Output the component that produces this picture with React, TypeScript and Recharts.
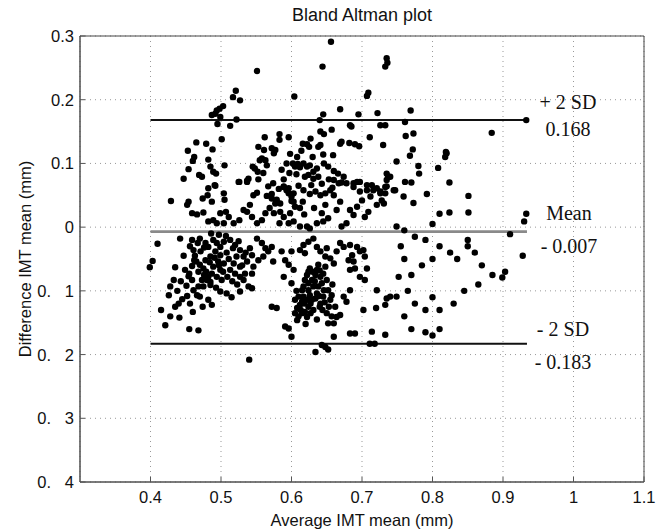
import { ScatterChart, Scatter, XAxis, YAxis, CartesianGrid, ReferenceLine, ReferenceArea } from "recharts";

// [average IMT, difference IMT]
const upperPoints: [number, number][] = [
  [0.656, 0.291], [0.644, 0.252], [0.551, 0.245], [0.735, 0.265], [0.733, 0.252], [0.736, 0.258], [0.604, 0.205],
  [0.709, 0.211], [0.707, 0.206], [0.521, 0.214], [0.517, 0.204], [0.527, 0.199],
  [0.503, 0.19], [0.498, 0.186], [0.494, 0.183], [0.492, 0.178], [0.487, 0.176], [0.499, 0.173], [0.495, 0.162],
  [0.522, 0.169], [0.513, 0.159],
  [0.669, 0.185], [0.645, 0.177], [0.64, 0.168], [0.695, 0.177], [0.683, 0.16], [0.685, 0.158], [0.722, 0.179],
  [0.726, 0.16], [0.733, 0.16],
  [0.641, 0.15], [0.646, 0.146], [0.657, 0.153], [0.711, 0.141], [0.73, 0.129], [0.501, 0.138], [0.562, 0.141],
  [0.583, 0.146], [0.583, 0.137], [0.596, 0.141],
  [0.465, 0.133], [0.479, 0.131], [0.453, 0.12], [0.488, 0.122],
  [0.553, 0.126], [0.561, 0.121], [0.572, 0.124], [0.577, 0.121], [0.575, 0.116],
  [0.616, 0.131], [0.622, 0.13], [0.627, 0.139], [0.625, 0.126], [0.638, 0.126], [0.641, 0.129],
  [0.669, 0.131], [0.671, 0.134], [0.682, 0.132], [0.69, 0.13], [0.696, 0.127],
  [0.659, 0.113], [0.462, 0.11], [0.46, 0.104], [0.454, 0.091], [0.447, 0.076],
  [0.482, 0.106], [0.485, 0.095], [0.489, 0.087], [0.493, 0.084], [0.505, 0.097], [0.469, 0.082], [0.473, 0.079],
  [0.491, 0.066],
  [0.526, 0.071], [0.537, 0.073], [0.539, 0.076],
  [0.545, 0.095], [0.548, 0.092], [0.552, 0.087], [0.555, 0.105], [0.558, 0.108], [0.563, 0.105], [0.565, 0.097],
  [0.574, 0.069], [0.589, 0.075], [0.589, 0.063], [0.596, 0.061], [0.603, 0.053], [0.6, 0.041], [0.572, 0.052],
  [0.579, 0.04], [0.584, 0.037],
  [0.602, 0.1], [0.605, 0.095], [0.609, 0.099], [0.612, 0.094], [0.617, 0.1], [0.622, 0.095], [0.626, 0.097],
  [0.631, 0.087], [0.636, 0.092], [0.646, 0.1], [0.652, 0.095],
  [0.597, 0.085], [0.607, 0.083], [0.619, 0.079], [0.624, 0.082], [0.631, 0.076], [0.638, 0.079],
  [0.66, 0.088], [0.666, 0.084], [0.674, 0.079], [0.671, 0.07], [0.678, 0.069], [0.688, 0.063], [0.693, 0.071],
  [0.697, 0.056], [0.707, 0.058], [0.7, 0.042], [0.714, 0.066], [0.721, 0.061], [0.726, 0.056], [0.733, 0.053],
  [0.735, 0.074], [0.74, 0.079], [0.747, 0.058],
  [0.553, 0.075], [0.56, 0.085], [0.567, 0.064], [0.582, 0.06], [0.586, 0.09], [0.593, 0.1], [0.598, 0.115],
  [0.608, 0.11], [0.614, 0.12], [0.63, 0.11], [0.645, 0.114], [0.653, 0.075], [0.658, 0.062], [0.61, 0.065],
  [0.617, 0.058], [0.628, 0.066], [0.643, 0.068],
];

const nearMeanPoints: [number, number][] = [
  [0.429, 0.041], [0.482, 0.061], [0.492, 0.065], [0.481, 0.05], [0.487, 0.04], [0.474, 0.045], [0.454, 0.04],
  [0.452, 0.035], [0.459, 0.022], [0.466, 0.02], [0.475, 0.023], [0.482, 0.009], [0.489, 0.011], [0.494, 0.006],
  [0.499, 0.022], [0.504, 0.053], [0.505, 0.043], [0.507, 0.024], [0.511, 0.016], [0.504, 0.006],
  [0.525, 0.071], [0.537, 0.071], [0.546, 0.05], [0.551, 0.054], [0.541, 0.035], [0.537, 0.024], [0.544, 0.016],
  [0.532, 0.027], [0.526, 0.011], [0.518, 0.006],
  [0.565, 0.049], [0.572, 0.045], [0.577, 0.037], [0.579, 0.043], [0.569, 0.03], [0.575, 0.022], [0.584, 0.024],
  [0.589, 0.016], [0.583, 0.006], [0.563, 0.022], [0.558, 0.011], [0.551, 0.006],
  [0.589, 0.064], [0.593, 0.058], [0.6, 0.048], [0.596, 0.053], [0.603, 0.04], [0.605, 0.032], [0.598, 0.022],
  [0.596, 0.006], [0.603, 0.009], [0.612, 0.001],
  [0.616, 0.04], [0.626, 0.052], [0.634, 0.056], [0.641, 0.05], [0.643, 0.022], [0.636, 0.006], [0.626, -0.002],
  [0.622, 0.001],
  [0.648, 0.053], [0.655, 0.058], [0.66, 0.05], [0.669, 0.04], [0.664, 0.027], [0.652, 0.014], [0.645, 0.009],
  [0.66, 0.074], [0.667, 0.069], [0.688, 0.069], [0.697, 0.071], [0.707, 0.066], [0.716, 0.058], [0.712, 0.048],
  [0.726, 0.053], [0.735, 0.064], [0.731, 0.037], [0.721, 0.035], [0.709, 0.024], [0.704, 0.016], [0.693, 0.032],
  [0.683, 0.027], [0.688, 0.019], [0.678, 0.006], [0.671, 0.001], [0.745, 0.058], [0.749, 0.001],
  [0.648, 0.035], [0.632, 0.03], [0.618, 0.02], [0.612, 0.03],
];

const lowerPoints: [number, number][] = [
  [0.399, -0.063], [0.403, -0.053], [0.41, -0.026], [0.442, -0.018], [0.435, -0.063], [0.433, -0.083],
  [0.428, -0.093], [0.426, -0.107], [0.415, -0.13], [0.421, -0.154], [0.428, -0.14], [0.435, -0.125],
  [0.44, -0.12], [0.441, -0.142], [0.455, -0.16], [0.468, -0.162], [0.452, -0.108], [0.459, -0.083],
  [0.454, -0.077], [0.449, -0.067], [0.459, -0.061], [0.465, -0.054], [0.47, -0.059], [0.475, -0.065],
  [0.479, -0.07], [0.482, -0.078], [0.485, -0.086], [0.473, -0.083], [0.468, -0.093], [0.466, -0.107],
  [0.461, -0.099], [0.451, -0.092], [0.455, -0.073],
  [0.47, -0.018], [0.478, -0.025], [0.482, -0.031], [0.489, -0.02], [0.494, -0.025], [0.499, -0.031],
  [0.504, -0.023], [0.492, -0.038], [0.499, -0.044], [0.485, -0.046], [0.478, -0.052], [0.496, -0.054],
  [0.504, -0.057], [0.489, -0.062], [0.499, -0.067], [0.487, -0.073], [0.494, -0.078], [0.501, -0.083],
  [0.48, -0.083], [0.475, -0.093], [0.485, -0.091], [0.499, -0.101], [0.47, -0.109], [0.482, -0.114],
  [0.487, -0.122], [0.459, -0.02], [0.461, -0.036], [0.467, -0.025],
  [0.463, -0.045], [0.471, -0.038], [0.476, -0.032], [0.484, -0.055], [0.491, -0.048], [0.497, -0.06],
  [0.503, -0.07], [0.508, -0.04], [0.511, -0.05], [0.509, -0.078], [0.516, -0.085], [0.523, -0.09],
  [0.527, -0.078], [0.53, -0.06], [0.535, -0.04], [0.525, -0.022], [0.517, -0.033], [0.507, -0.014],
  [0.497, -0.012], [0.486, -0.01], [0.476, -0.075], [0.468, -0.07], [0.462, -0.052], [0.456, -0.03],
  [0.447, -0.045], [0.443, -0.085], [0.438, -0.1], [0.445, -0.113], [0.456, -0.12], [0.46, -0.133],
  [0.474, -0.125], [0.493, -0.095], [0.508, -0.104], [0.515, -0.11], [0.527, -0.101],
  [0.513, -0.02], [0.52, -0.028], [0.527, -0.036], [0.522, -0.046], [0.518, -0.057], [0.513, -0.067],
  [0.52, -0.073], [0.527, -0.062], [0.532, -0.046], [0.537, -0.054], [0.541, -0.033], [0.544, -0.044],
  [0.534, -0.073], [0.544, -0.073], [0.532, -0.083], [0.539, -0.093], [0.544, -0.096],
  [0.551, -0.018], [0.558, -0.025], [0.563, -0.033], [0.56, -0.046], [0.567, -0.038], [0.572, -0.031],
  [0.574, -0.054], [0.553, -0.052], [0.546, -0.062], [0.572, -0.125], [0.579, -0.127],
  [0.586, -0.038], [0.591, -0.052], [0.596, -0.059], [0.603, -0.067], [0.6, -0.088], [0.589, -0.078],
  [0.591, -0.156], [0.596, -0.159], [0.6, -0.172], [0.608, -0.146], [0.605, -0.114], [0.61, -0.109],
  [0.612, -0.122], [0.615, -0.099], [0.617, -0.093], [0.619, -0.083], [0.622, -0.075], [0.624, -0.07],
  [0.626, -0.065], [0.629, -0.083], [0.631, -0.093], [0.634, -0.075], [0.636, -0.067], [0.638, -0.059],
  [0.641, -0.078], [0.643, -0.088], [0.645, -0.073], [0.648, -0.062], [0.65, -0.083], [0.636, -0.104],
  [0.629, -0.114], [0.624, -0.125], [0.619, -0.133], [0.622, -0.141], [0.615, -0.135], [0.631, -0.13],
  [0.641, -0.12], [0.645, -0.109], [0.652, -0.099], [0.655, -0.114], [0.657, -0.107], [0.65, -0.135],
  [0.652, -0.151], [0.66, -0.151], [0.664, -0.141], [0.669, -0.138], [0.662, -0.125],
  [0.617, -0.109], [0.624, -0.099], [0.626, -0.107], [0.634, -0.112], [0.638, -0.093], [0.622, -0.114],
  [0.615, -0.117], [0.608, -0.127], [0.605, -0.135], [0.64, -0.125], [0.646, -0.099], [0.624, -0.088],
  [0.607, -0.1], [0.613, -0.13], [0.618, -0.12], [0.627, -0.12], [0.633, -0.085], [0.639, -0.108],
  [0.644, -0.13], [0.647, -0.118], [0.653, -0.125], [0.658, -0.09], [0.627, -0.135], [0.61, -0.14],
  [0.62, -0.152], [0.636, -0.145], [0.657, -0.14], [0.63, -0.07], [0.64, -0.068],
  [0.6, -0.038], [0.612, -0.036], [0.617, -0.028], [0.619, -0.041], [0.624, -0.023], [0.631, -0.018],
  [0.636, -0.031], [0.641, -0.038], [0.65, -0.033], [0.648, -0.046], [0.655, -0.049], [0.66, -0.057],
  [0.664, -0.038], [0.669, -0.025], [0.674, -0.031], [0.683, -0.028], [0.681, -0.052], [0.686, -0.044],
  [0.688, -0.054], [0.683, -0.067], [0.693, -0.031], [0.697, -0.038], [0.702, -0.036], [0.704, -0.046],
  [0.707, -0.065], [0.704, -0.083], [0.697, -0.078], [0.69, -0.065], [0.683, -0.099], [0.678, -0.117],
  [0.674, -0.109],
  [0.66, -0.172], [0.683, -0.167], [0.69, -0.167], [0.714, -0.164], [0.711, -0.183], [0.718, -0.183],
  [0.72, -0.127], [0.721, -0.099], [0.733, -0.122], [0.735, -0.112], [0.74, -0.109], [0.749, -0.109],
  [0.752, -0.078], [0.733, -0.169], [0.702, -0.13],
  [0.634, -0.196], [0.643, -0.185], [0.648, -0.188], [0.652, -0.192], [0.54, -0.208],
];

const rightPoints: [number, number][] = [
  [0.769, 0.183], [0.761, 0.165], [0.773, 0.147], [0.762, 0.143], [0.772, 0.122], [0.768, 0.112], [0.82, 0.116],
  [0.818, 0.11], [0.819, 0.118], [0.884, 0.148], [0.933, 0.168], [0.78, 0.096], [0.781, 0.084], [0.808, 0.093],
  [0.824, 0.07], [0.761, 0.071], [0.77, 0.07], [0.759, 0.048], [0.773, 0.038], [0.792, 0.052], [0.851, 0.049],
  [0.81, 0.021], [0.824, 0.023], [0.851, 0.023], [0.933, 0.021], [0.749, 0.103], [0.735, 0.084], [0.737, 0.079],
  [0.733, 0.063], [0.728, 0.042],
  [0.93, 0.009], [0.91, -0.011], [0.928, -0.045], [0.903, -0.07], [0.899, -0.079],
  [0.76, -0.005], [0.775, -0.015], [0.79, -0.02], [0.8, 0.005], [0.81, -0.03], [0.8, -0.05], [0.825, -0.04],
  [0.835, -0.05], [0.85, -0.03], [0.86, -0.04], [0.87, -0.06], [0.885, -0.075], [0.865, -0.09], [0.845, -0.1],
  [0.83, -0.12], [0.81, -0.13], [0.79, -0.13], [0.8, -0.11], [0.775, -0.12], [0.765, -0.1], [0.77, -0.075],
  [0.785, -0.06], [0.76, -0.05], [0.755, -0.03], [0.76, -0.14], [0.77, -0.16], [0.79, -0.165], [0.8, -0.17],
  [0.81, -0.16], [0.85, -0.02],
];

const xTicks = [0.4, 0.5, 0.6, 0.7, 0.8, 0.9, 1, 1.1];
const yTicks = [-0.4, -0.3, -0.2, -0.1, 0, 0.1, 0.2, 0.3];
const yTickLabels = ["0.   4", "0.   3", "0.   2", "0.   1", "0", "0.1", "0.2", "0.3"];

const limitValues = [0.168, -0.007, -0.183];
const limitNames = ["+ 2 SD", "Mean", "- 2 SD"];
const limitTexts = ["0.168", "- 0.007", "- 0.183"];
const limitColors = ["#111", "#8a8a8a", "#111"];
const lineStart = 0.4;
const lineEnd = 0.934;

// label placement relative to the right end of each line: [dx, dy name, dy value]
const labelOffsets = [
  [41, -11, 16],
  [42, -12, 21],
  [36, -8, 25],
];

const points = [...upperPoints, ...nearMeanPoints, ...lowerPoints, ...rightPoints].map(([avg, diff]) => ({ avg, diff }));

const sans = "'Liberation Sans', Arial, Helvetica, sans-serif";
const serif = "'Liberation Serif', 'Times New Roman', serif";

const YTick = ({ x = 0, y = 0, payload }: { x?: number; y?: number; payload?: { value: number } }) => {
  const i = yTicks.findIndex((t) => Math.abs(t - (payload?.value ?? 0)) < 1e-9);
  return (
    <text x={x} y={y} dy="0.36em" textAnchor="end" fontSize={16.5} fontFamily={sans} fill="#111" style={{ whiteSpace: "pre" }}>
      {yTickLabels[i]}
    </text>
  );
};

const LimitLabel = ({ viewBox, idx }: { viewBox?: { x: number; y: number; width: number }; idx: number }) => {
  if (!viewBox) return null;
  const [dx, dyTop, dyBottom] = labelOffsets[idx];
  const x = viewBox.x + viewBox.width + dx;
  return (
    <g fontFamily={serif} fontSize={20} fill="#111" textAnchor="middle">
      <text x={x} y={viewBox.y + dyTop} textAnchor="middle">{limitNames[idx]}</text>
      <text x={x} y={viewBox.y + dyBottom} textAnchor="middle">{limitTexts[idx]}</text>
    </g>
  );
};

const Dot = (props: { cx?: number; cy?: number }) => <circle cx={props.cx} cy={props.cy} r={3.2} fill="#000" />;

const App = () => {
  return (
    <div style={{ position: "absolute", left: 0, top: 0, width: 672, height: 531, background: "#fff" }}>
      <div style={{ position: "absolute", left: 80, top: 5, width: 564, textAlign: "center", fontFamily: sans, fontSize: 18, lineHeight: "20px", color: "#111" }}>
        Bland Altman plot
      </div>
      <ScatterChart width={672} height={531} margin={{ top: 36, right: 28, bottom: 0, left: 0 }}>
        <CartesianGrid stroke="#999" strokeDasharray="1 4" />
        <XAxis
          type="number"
          dataKey="avg"
          domain={[0.3, 1.1]}
          ticks={xTicks}
          height={49}
          stroke="#555"
          tickSize={-5}
          tickMargin={14}
          tick={{ fontSize: 16.5, fill: "#111", fontFamily: sans }}
          label={({ viewBox }: any) => (
            <text x={viewBox.x + viewBox.width / 2} y={viewBox.y + 44} textAnchor="middle" fontSize={16.5} fontFamily={sans} fill="#111">
              Average IMT mean (mm)
            </text>
          )}
        />
        <XAxis xAxisId="top" orientation="top" type="number" domain={[0.3, 1.1]} ticks={xTicks} height={0} axisLine={false} tick={false} tickSize={-5} stroke="#555" />
        <YAxis
          type="number"
          dataKey="diff"
          domain={[-0.4, 0.3]}
          ticks={yTicks}
          width={80}
          stroke="#555"
          tickSize={-5}
          tickMargin={11}
          tick={<YTick />}
          label={({ viewBox }: any) => {
            const cx = viewBox.x + 25;
            const cy = viewBox.y + viewBox.height / 2;
            return (
              <text x={cx} y={cy} transform={`rotate(-90 ${cx} ${cy})`} textAnchor="middle" dominantBaseline="central" fontSize={16.5} fontFamily={sans} fill="#111">
                Difference IMT mean (mm)
              </text>
            );
          }}
        />
        <YAxis yAxisId="right" orientation="right" type="number" domain={[-0.4, 0.3]} ticks={yTicks} width={0} axisLine={false} tick={false} tickSize={-5} stroke="#555" />
        <ReferenceArea x1={0.3} x2={1.1} y1={-0.4} y2={0.3} fill="none" stroke="#444" strokeWidth={1} />
        {limitValues.map((v, i) => (
          <ReferenceLine
            key={limitNames[i]}
            segment={[{ x: lineStart, y: v }, { x: lineEnd, y: v }]}
            stroke={limitColors[i]}
            strokeWidth={i === 1 ? 2.6 : 2}
            label={<LimitLabel idx={i} />}
          />
        ))}
        <Scatter data={points} shape={<Dot />} isAnimationActive={false} />
      </ScatterChart>
    </div>
  );
};

export default App;
